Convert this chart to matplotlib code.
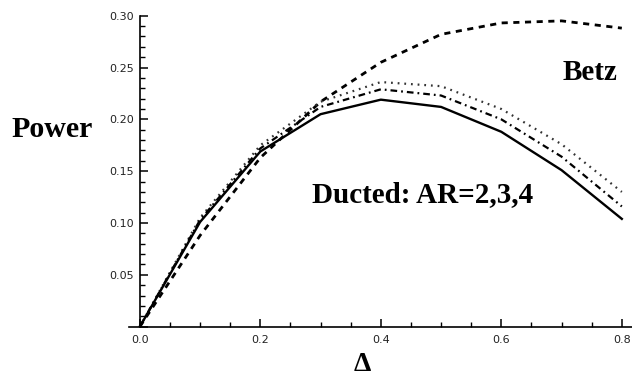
import matplotlib
matplotlib.use("Agg")
import matplotlib.pyplot as plt
from matplotlib.ticker import MultipleLocator

# values
delta = [0.0, 0.1, 0.2, 0.3, 0.4, 0.5, 0.6, 0.7, 0.8]
betz = [0.0, 0.088, 0.163, 0.217, 0.255, 0.282, 0.293, 0.295, 0.288]
ar2 = [0.0, 0.101, 0.169, 0.205, 0.219, 0.212, 0.188, 0.151, 0.104]
ar3 = [0.0, 0.103, 0.172, 0.212, 0.229, 0.223, 0.200, 0.164, 0.116]
ar4 = [0.0, 0.105, 0.175, 0.217, 0.236, 0.232, 0.210, 0.176, 0.130]

fig = plt.figure(figsize=(6.32, 3.79), dpi=100)
ax = fig.add_axes([0.2041, 0.138, 0.796, 0.8206])

ax.plot(delta, betz, color="black", lw=2.0, linestyle=(0, (2.2, 2.0)))
ax.plot(delta, ar4, color="#333333", lw=1.6, linestyle=(0, (0.8, 2.2)))
ax.plot(delta, ar3, color="black", lw=1.6, linestyle=(0, (3.0, 1.8, 0.8, 1.8)))
ax.plot(delta, ar2, color="black", lw=1.7)

ax.set_xlim(-0.018, 0.817)
ax.set_ylim(0, 0.30)

for s in ["top", "right"]:
    ax.spines[s].set_visible(False)
ax.spines["left"].set_position(("data", 0))
ax.spines["bottom"].set_position(("data", 0))
ax.spines["left"].set_linewidth(1.2)
ax.spines["bottom"].set_linewidth(1.2)

ax.xaxis.set_major_locator(MultipleLocator(0.2))
ax.xaxis.set_minor_locator(MultipleLocator(0.05))
ax.yaxis.set_major_locator(MultipleLocator(0.05))
ax.yaxis.set_minor_locator(MultipleLocator(0.01))
ax.xaxis.set_major_formatter(plt.FuncFormatter(lambda v, p: f"{v:.1f}"))
ax.yaxis.set_major_formatter(plt.FuncFormatter(lambda v, p: "" if v == 0 else f"{v:.2f}"))

ax.tick_params(axis="both", which="major", direction="in", length=6, width=1.1,
               labelsize=8, labelcolor="#222222")
ax.tick_params(axis="both", which="minor", direction="in", length=3.5, width=1.0)
ax.tick_params(axis="x", which="major", pad=6)
ax.tick_params(axis="y", which="major", pad=4)

font = dict(family="Liberation Serif", weight="bold")
fig.text(0.934, 0.81, "Betz", ha="center", va="center", size=21, **font)
fig.text(0.668, 0.486, "Ducted: AR=2,3,4", ha="center", va="center", size=21, **font)
fig.text(0.083, 0.657, "Power", ha="center", va="center", size=21.5, **font)
fig.text(0.573, 0.022, "Δ", ha="center", va="baseline", size=20, **font)

fig.savefig("out.png", dpi=100)
